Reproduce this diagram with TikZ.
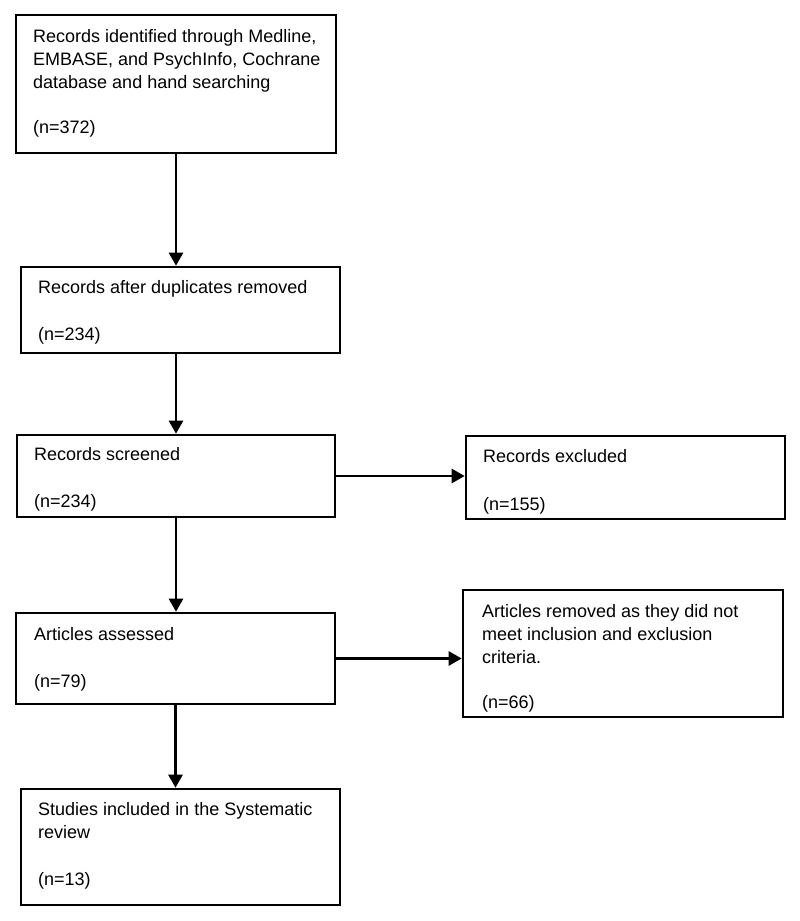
\documentclass[tikz,border=0pt]{standalone}
\usepackage{fontspec}
\setmainfont{Liberation Sans}
\usetikzlibrary{arrows.meta}
\begin{document}
\begin{tikzpicture}[x=1pt,y=-1pt,
  box/.style={draw=black, line width=2.6pt, inner sep=0pt, minimum width=#1},
  lbl/.style={anchor=base west, inner sep=0pt, font=\fontsize{18}{22}\selectfont, text=black},
  arr/.style={line width=2.6pt, -{Triangle[length=13pt,width=14pt]}}]
\useasboundingbox (0,0) rectangle (800,921);
\fill[white] (0,0) rectangle (800,921);
% boxes
\node[box=320pt, minimum height=138pt] (B1) at (176,84) {};
\node[box=319pt, minimum height=86pt] (B2) at (180.5,310) {};
\node[box=318pt, minimum height=82pt] (B3) at (176,476) {};
\node[box=319pt, minimum height=83pt] (B4) at (625.5,477.5) {};
\node[box=319pt, minimum height=91pt] (B5) at (175.5,658.5) {};
\node[box=320pt, minimum height=127pt] (B6) at (623,653.5) {};
\node[box=319pt, minimum height=116pt] (B7) at (180.5,847) {};
% texts
\node[lbl] (t1a) at (33,42) {Records identified through Medline,};
\node[lbl] (t1b) at (33,65) {EMBASE, and PsychInfo, Cochrane};
\node[lbl] (t1c) at (33,88) {database and hand searching};
\node[lbl] (t1d) at (33,133) {(n=372)};
\node[lbl] (t2a) at (38,293) {Records after duplicates removed};
\node[lbl] (t2b) at (38,340) {(n=234)};
\node[lbl] (t3a) at (34,460) {Records screened};
\node[lbl] (t3b) at (34,507) {(n=234)};
\node[lbl] (t4a) at (483,462) {Records excluded};
\node[lbl] (t4b) at (483,510) {(n=155)};
\node[lbl] (t5a) at (34,640) {Articles assessed};
\node[lbl] (t5b) at (34,687) {(n=79)};
\node[lbl] (t6a) at (482,617) {Articles removed as they did not};
\node[lbl] (t6b) at (482,640) {meet inclusion and exclusion};
\node[lbl] (t6c) at (482,663) {criteria.};
\node[lbl] (t6d) at (482,708) {(n=66)};
\node[lbl] (t7a) at (38,815) {Studies included in the Systematic};
\node[lbl] (t7b) at (38,838) {review};
\node[lbl] (t7c) at (38,885) {(n=13)};
% connectors
\draw[arr] (B1.south) -- (B2.north -| B1.south);
\draw[arr] (B2.south -| B3.north) -- (B3.north);
\draw[arr] (B3.south) -- (B5.north -| B3.south);
\draw[arr] (B5.south) -- (B7.north -| B5.south);
\draw[arr] (B3.east) -- (B3.east -| B4.west);
\draw[arr] (B5.east) -- (B5.east -| B6.west);
\end{tikzpicture}
\end{document}
